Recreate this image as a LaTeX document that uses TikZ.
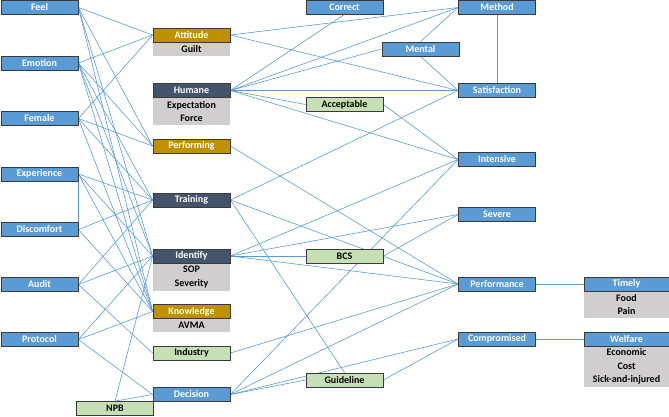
\documentclass[tikz,border=0pt]{standalone}
\usepackage{fontspec}
\setmainfont{Carlito}
\pgfdeclarelayer{bg}
\pgfsetlayers{bg,main}
\definecolor{cblue}{HTML}{5B9BD5}
\definecolor{cgold}{HTML}{BF9000}
\definecolor{cslate}{HTML}{44546A}
\definecolor{cgreen}{HTML}{C5E0B4}
\definecolor{cgray}{HTML}{D0CECE}
\definecolor{cborder}{HTML}{3A3A3A}
\definecolor{cline}{HTML}{5B9BD5}
\tikzset{
  box/.style={draw=cborder, line width=0.8pt, minimum width=77pt, minimum height=14pt,
    inner sep=0pt, font=\bfseries\fontsize{10}{11}\selectfont},
  bluebox/.style={box, fill=cblue, text=white},
  goldbox/.style={box, fill=cgold, text=white},
  slatebox/.style={box, fill=cslate, text=white},
  greenbox/.style={box, fill=cgreen, text=black},
  graybox/.style={fill=cgray, draw=none, minimum width=77pt, inner sep=0pt, align=center,
    text=black, font=\bfseries\fontsize{10}{13.6}\selectfont},
  link/.style={draw=cline, line width=0.6pt}
}
\begin{document}
\begin{tikzpicture}[x=1pt,y=-1pt]
\useasboundingbox (0,0) rectangle (669,416);
% left column
\node[bluebox] (feel) at (39.5,7.5) {Feel};
\node[bluebox] (emotion) at (39.5,63) {Emotion};
\node[bluebox] (female) at (39.5,118.5) {Female};
\node[bluebox] (experience) at (39.5,174) {Experience};
\node[bluebox] (discomfort) at (39.5,229.5) {Discomfort};
\node[bluebox] (audit) at (39.5,284.5) {Audit};
\node[bluebox] (protocol) at (39.5,339.5) {Protocol};
% second column
\node[graybox, minimum height=14pt] (attitudeg) at (191.5,49) {Guilt};
\node[goldbox] (attitude) at (191.5,35) {Attitude};
\node[graybox, minimum height=27pt] (humaneg) at (191.5,111.5) {Expectation\\Force};
\node[slatebox] (humane) at (191.5,90.5) {Humane};
\node[goldbox] (performing) at (191.5,146) {Performing};
\node[slatebox] (training) at (191.5,200) {Training};
\node[graybox, minimum height=28pt] (identifyg) at (191.5,277) {SOP\\Severity};
\node[slatebox] (identify) at (191.5,256) {Identify};
\node[graybox, minimum height=13pt] (knowledgeg) at (191.5,325.5) {AVMA};
\node[goldbox] (knowledge) at (191.5,311.5) {Knowledge};
\node[greenbox] (industry) at (191.5,353) {Industry};
\node[bluebox] (decision) at (191.5,394.5) {Decision};
\node[greenbox] (npb) at (115,408.5) {NPB};
% third column
\node[bluebox] (correct) at (344.5,7) {Correct};
\node[bluebox] (mental) at (420.5,49) {Mental};
\node[greenbox] (acceptable) at (344.5,104.5) {Acceptable};
\node[greenbox] (bcs) at (344.5,256) {BCS};
\node[greenbox] (guideline) at (344.5,380) {Guideline};
% fourth column
\node[bluebox] (method) at (497,7.5) {Method};
\node[bluebox] (satisfaction) at (497,90.5) {Satisfaction};
\node[bluebox] (intensive) at (497,159.5) {Intensive};
\node[bluebox] (severe) at (497,214.5) {Severe};
\node[bluebox] (performance) at (497,284) {Performance};
\node[bluebox] (compromised) at (497,339) {Compromised};
% fifth column
\node[graybox, minimum width=85pt, minimum height=27pt] (timelyg) at (626.5,304.5) {Food\\Pain};
\node[bluebox, minimum width=85pt] (timely) at (626.5,284) {Timely};
\node[graybox, minimum width=85pt, minimum height=41pt] (welfareg) at (626.5,366.5) {Economic\\Cost\\Sick-and-injured};
\node[bluebox, minimum width=85pt] (welfare) at (626.5,339) {Welfare};
\begin{pgfonlayer}{bg}
% left fan
\draw[link] (feel.east) -- (attitude.west);
\draw[link] (feel.east) -- (performing.west);
\draw[link] (feel.east) -- (identify.west);
\draw[link] (feel.east) -- (knowledge.west);
\draw[link] (emotion.east) -- (attitude.west);
\draw[link] (emotion.east) -- (performing.west);
\draw[link] (emotion.east) -- (training.west);
\draw[link] (emotion.east) -- (identify.west);
\draw[link] (emotion.east) -- (knowledge.west);
\draw[link] (female.east) -- (attitude.west);
\draw[link] (female.east) -- (performing.west);
\draw[link] (female.east) -- (training.west);
\draw[link] (female.east) -- (knowledge.west);
\draw[link] (experience.east) -- (discomfort.east);
\draw[link] (experience.east) -- (training.west);
\draw[link] (experience.east) -- (identify.west);
\draw[link] (experience.east) -- (knowledge.west);
\draw[link] (discomfort.east) -- (training.west);
\draw[link] (discomfort.east) -- (knowledge.west);
\draw[link] (audit.east) -- (training.west);
\draw[link] (audit.east) -- (identify.west);
\draw[link] (audit.east) -- (industry.west);
\draw[link] (protocol.east) -- (identify.west);
\draw[link] (protocol.east) -- (knowledge.west);
\draw[link] (protocol.east) -- (decision.west);
\draw[link] (npb.north) -- (identify.west);
\draw[link] (npb.north) -- (decision.west);
% right fan
\draw[link] (attitude.east) -- (method.west);
\draw[link] (attitude.east) -- (satisfaction.west);
\draw[link] (humane.east) -- (correct.south);
\draw[link] (humane.east) -- (method.west);
\draw[link] (humane.east) -- (mental.west);
\draw[link] (humane.east) -- (satisfaction.west);
\draw[link] (humane.east) -- (acceptable.west);
\draw[link] (humane.east) -- (intensive.west);
\draw[link] (mental.north) -- (method.west);
\draw[link] (mental.south) -- (satisfaction.west);
\draw[link] (method.south) -- (satisfaction.north);
\draw[link] (acceptable.east) -- (intensive.west);
\draw[link] (performing.east) -- (performance.west);
\draw[link] (training.east) -- (satisfaction.west);
\draw[link] (training.east) -- (performance.west);
\draw[link] (training.east) -- (guideline.north);
\draw[link] (identify.east) -- (intensive.west);
\draw[link] (identify.east) -- (severe.west);
\draw[link] (identify.east) -- (bcs.west);
\draw[link] (identify.east) -- (performance.west);
\draw[link] (bcs.east) -- (severe.west);
\draw[link] (industry.east) -- (performance.west);
\draw[link] (decision.east) -- (intensive.west);
\draw[link] (decision.east) -- (performance.west);
\draw[link] (decision.east) -- (compromised.west);
\draw[link] (decision.east) -- (guideline.west);
\draw[link] (guideline.east) -- (compromised.west);
\draw[link] (performance.east) -- (timely.west);
\draw[link] (compromised.east) -- (welfare.west);
\end{pgfonlayer}
\end{tikzpicture}
\end{document}
